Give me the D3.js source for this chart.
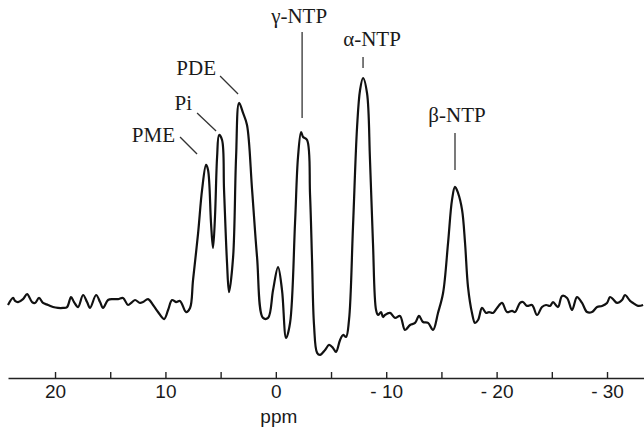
<!DOCTYPE html>
<html>
<head>
<meta charset="utf-8">
<script src="https://cdn.jsdelivr.net/npm/d3@7"></script>
<style>
  body { margin: 0; background: #fff; }
  .tick text { font-family: "Liberation Sans", Arial, sans-serif; font-size: 19px; fill: #1a1a1a; }
  .peaklabel { font-family: "Liberation Serif", "Times New Roman", serif; font-size: 21px; fill: #1a1a1a; }
  .axislabel { font-family: "Liberation Sans", Arial, sans-serif; font-size: 19px; fill: #1a1a1a; }
</style>
</head>
<body>
<div id="chart"></div>
<script>
// chemical shift (ppm) and signal intensity (arbitrary units, alpha-NTP = 100)
var ppm = [24.26, 23.80, 23.62, 23.35, 22.90, 22.53, 22.08, 21.81, 21.45, 21.09, 20.63, 20.18, 19.73, 19.27, 18.91,
  18.55, 18.28, 17.91, 17.46, 17.10, 16.83, 16.28, 15.92, 15.65, 15.20, 14.74, 14.29, 13.84, 13.39, 13.02, 12.75,
  12.30, 12.03, 11.57, 11.12, 10.67, 10.12, 9.76, 9.40, 9.04, 8.68, 8.13, 7.77, 7.50, 7.04, 6.68, 6.32, 6.14, 5.87,
  5.69, 5.51, 5.32, 5.14, 4.87, 4.69, 4.42, 4.24, 3.87, 3.60, 3.33, 2.97, 2.61, 2.15, 1.70, 1.16, 0.70, 0.25, -0.20,
  -0.56, -0.93, -1.29, -1.74, -2.01, -2.29, -2.47, -2.83, -3.10, -3.28, -3.46, -3.74, -4.01, -4.46, -4.82, -5.18,
  -5.45, -5.82, -6.09, -6.36, -6.63, -6.99, -7.36, -7.63, -7.90, -8.26, -8.53, -8.80, -9.08, -9.26, -9.53, -9.71,
  -9.89, -10.34, -10.80, -11.25, -11.70, -12.16, -12.61, -12.97, -13.33, -13.79, -14.24, -14.69, -15.15, -15.60,
  -15.96, -16.23, -16.51, -16.87, -17.14, -17.41, -17.77, -18.04, -18.32, -18.68, -19.04, -19.31, -19.67, -20.04,
  -20.49, -20.94, -21.40, -21.67, -22.12, -22.39, -22.75, -23.21, -23.66, -24.11, -24.48, -24.84, -25.11, -25.56,
  -25.93, -26.38, -26.83, -27.28, -27.74, -28.19, -28.64, -29.10, -29.55, -30.00, -30.27, -30.54, -30.91, -31.36,
  -31.63, -32.09, -32.36, -32.81, -33.27];
var intensity = [0, 3.1, 1.8, 1.3, 2.6, 4.8, 1.3, 0.9, 3.1, 0.9, 0, -0.9, -1.3, -1.3, -0.9,
  3.5, 1.3, -0.9, 4.4, 1.3, -1.3, 4.4, 1.3, -1.3, 2.2, 2.6, 2.6, 3.1, 0, 1.3, 2.2,
  0.9, 1.3, 2.6, 0, -3.1, -6.2, -2.2, 2.2, 1.3, 1.8, -3.1, -1.3, 11.0, 31.7, 50.7, 61.7, 59.5, 36.1,
  25.1, 38.8, 65.2, 74.9, 72.7, 50.7, 18.5, 5.7, 21.1, 65.2, 89.0, 84.6, 79.3, 50.7, 21.1, -5.7, -5.7, 6.6, 16.7,
  6.6, -14.5, -7.9, 36.1, 65.2, 76.2, 74.0, 72.7, 48.5, 19.8, -8.8, -21.1, -22.0, -19.8, -17.6, -18.9,
  -20.7, -15.4, -13.2, -14.1, -6.6, 34.4, 78.4, 94.7, 100, 93.4, 63.9, 27.3, -2.2, -4.4, -3.1, -5.3,
  -4.4, -3.5, -5.7, -4.8, -11.0, -8.8, -7.9, -4.8, -7.5, -7.9, -11.0, -3.5, 5.3, 27.3,
  46.3, 52.0, 49.3, 41.9, 27.3, 7.9, -3.5, -7.9, -6.6, -1.3, -3.5, -3.1, -3.5, -1.3,
  0.9, -3.1, -2.6, -3.1, 0.9, 1.3, -0.4, 0, -4.4, -0.9, 0, -0.4, 1.3, -0.9,
  4.0, 3.1, -2.2, 3.5, 0.9, -3.1, -3.1, -0.9, -0.4, 0.9, 3.5, 2.6, 0.9, 2.2,
  4.4, 1.8, 0.9, -0.4, 0];

// assigned peaks
var peakNames = ["PME", "Pi", "PDE", "\u03b3-NTP", "\u03b1-NTP", "\u03b2-NTP"];
var peakPpm = [6.32, 5.14, 3.33, -2.29, -7.90, -16.23];
var peakHeight = [61.7, 74.9, 89.0, 76.2, 100, 52.0];

var axisTicks = [20, 15, 10, 5, 0, -5, -10, -15, -20, -25, -30];

var width = 644, height = 429;

var svg = d3.select("#chart").append("svg")
  .attr("width", width)
  .attr("height", height);

// ppm axis runs right to left
var x = d3.scaleLinear().domain([24.26, -33.35]).range([8, 644]);
var y = d3.scaleLinear().domain([0, 100]).range([305, 78]);

var data = ppm.map(function(p, i) { return {ppm: p, v: intensity[i]}; });

var line = d3.line()
  .x(function(d) { return x(d.ppm); })
  .y(function(d) { return y(d.v); })
  .curve(d3.curveCatmullRom.alpha(0.5));

svg.append("path")
  .datum(data)
  .attr("fill", "none")
  .attr("stroke", "#111")
  .attr("stroke-width", 2.2)
  .attr("stroke-linejoin", "round")
  .attr("d", line);

// axis with ticks pointing up
var axis = d3.axisBottom(x)
  .tickValues(axisTicks)
  .tickSizeInner(-6)
  .tickSizeOuter(0)
  .tickPadding(7)
  .tickFormat(function(d) {
    if (d % 10 !== 0) return "";
    return d < 0 ? "- " + (-d) : d;
  });

var gx = svg.append("g")
  .attr("transform", "translate(0,378)")
  .call(axis);
gx.select(".domain").attr("stroke", "#222").attr("stroke-width", 1.6);
gx.selectAll(".tick line").attr("stroke", "#222").attr("stroke-width", 1.4);

svg.append("text")
  .attr("class", "axislabel")
  .attr("x", x(0) + 3)
  .attr("y", 423)
  .attr("text-anchor", "middle")
  .text("ppm");

// label layout relative to each peak top: leader start/end and text anchor
var layout = [
  {l: [-26, -28, -9, -11], t: [-31, -23], anchor: "end"},
  {l: [-22, -22, -3, -4], t: [-27, -25], anchor: "end"},
  {l: [-19, -27, -1, -9], t: [-23, -28], anchor: "end"},
  {l: [1, -100, 1, -14], t: [-2, -109], anchor: "middle"},
  {l: [0, -21, 0, -10], t: [9, -32], anchor: "middle"},
  {l: [0, -54, 0, -17], t: [2, -65], anchor: "middle"}
];

peakNames.forEach(function(name, i) {
  var px = x(peakPpm[i]), py = y(peakHeight[i]), o = layout[i];
  svg.append("line")
    .attr("x1", px + o.l[0]).attr("y1", py + o.l[1])
    .attr("x2", px + o.l[2]).attr("y2", py + o.l[3])
    .attr("stroke", "#333")
    .attr("stroke-width", 1.3);
  svg.append("text")
    .attr("class", "peaklabel")
    .attr("x", px + o.t[0])
    .attr("y", py + o.t[1])
    .attr("text-anchor", o.anchor)
    .text(name);
});
</script>
</body>
</html>
